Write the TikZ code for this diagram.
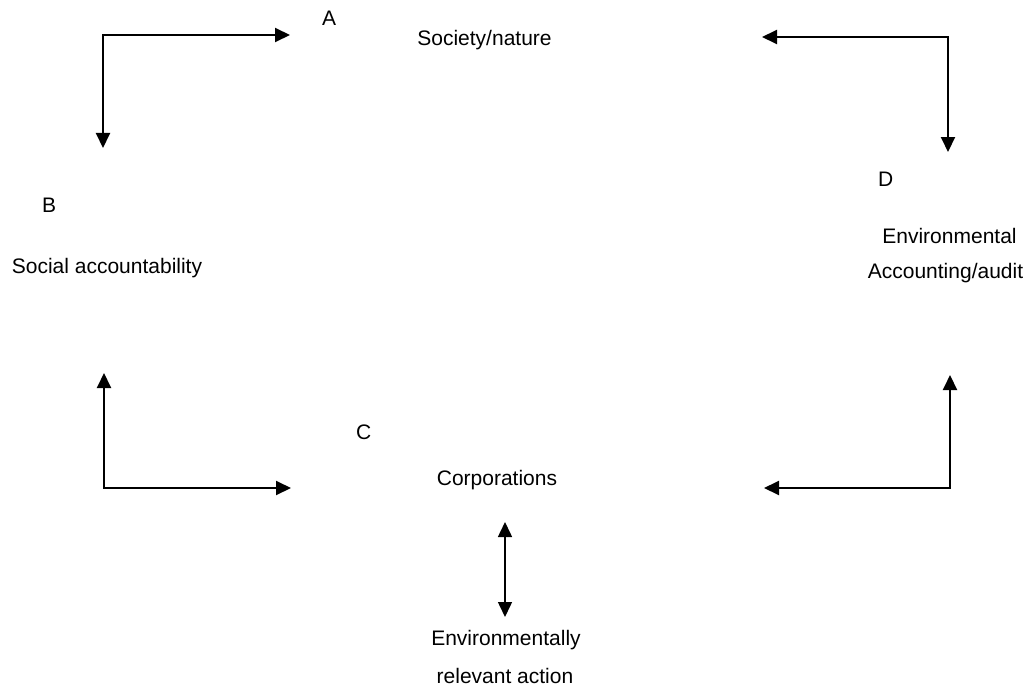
\documentclass[tikz,border=0pt]{standalone}
\usepackage{fontspec}
\setmainfont{Liberation Sans}
\usetikzlibrary{arrows.meta}
\begin{document}
\begin{tikzpicture}[x=1pt,y=-1pt,
  lbl/.style={inner sep=0pt, font=\fontsize{21}{25}\selectfont},
  tip/.tip={Triangle[length=15pt,width=14pt]},
  elbow/.style={line width=2pt, tip-tip},
  dbl/.style={line width=1.5pt, tip-tip}]
\useasboundingbox (0,0) rectangle (1030,690);
% labels
\node[lbl,anchor=base west] (A) at (322,26) {A};
\node[lbl,anchor=base] (soc) at (484.5,46) {Society/nature};
\node[lbl,anchor=base west] (B) at (42,212) {B};
\node[lbl,anchor=base] (sacc) at (107,273) {Social accountability};
\node[lbl,anchor=base west] (D) at (878,186) {D};
\node[lbl,anchor=base] (env1) at (949.5,243) {Environmental};
\node[lbl,anchor=base] (env2) at (945.5,278) {Accounting/audit};
\node[lbl,anchor=base west] (C) at (356,439) {C};
\node[lbl,anchor=base] (corp) at (497,485) {Corporations};
\node[lbl,anchor=base] (era1) at (506,645) {Environmentally};
\node[lbl,anchor=base] (era2) at (505,683) {relevant action};
% connector points
\coordinate (tlh) at (290,35);
\coordinate (tlc) at (103,35);
\coordinate (tlv) at (103,148);
\coordinate (trh) at (762,37);
\coordinate (trc) at (948,37);
\coordinate (trv) at (948,152);
\coordinate (blv) at (104,373);
\coordinate (blc) at (104,488);
\coordinate (blh) at (291,488);
\coordinate (brv) at (950,375);
\coordinate (brc) at (950,488);
\coordinate (brh) at (764,488);
\coordinate (dt) at (505,522);
\coordinate (db) at (505,617);
% connectors
\draw[elbow] (tlh) -- (tlc) -- (tlv);
\draw[elbow] (trh) -- (trc) -- (trv);
\draw[elbow] (blv) -- (blc) -- (blh);
\draw[elbow] (brv) -- (brc) -- (brh);
\draw[dbl] (dt) -- (db);
\end{tikzpicture}
\end{document}
